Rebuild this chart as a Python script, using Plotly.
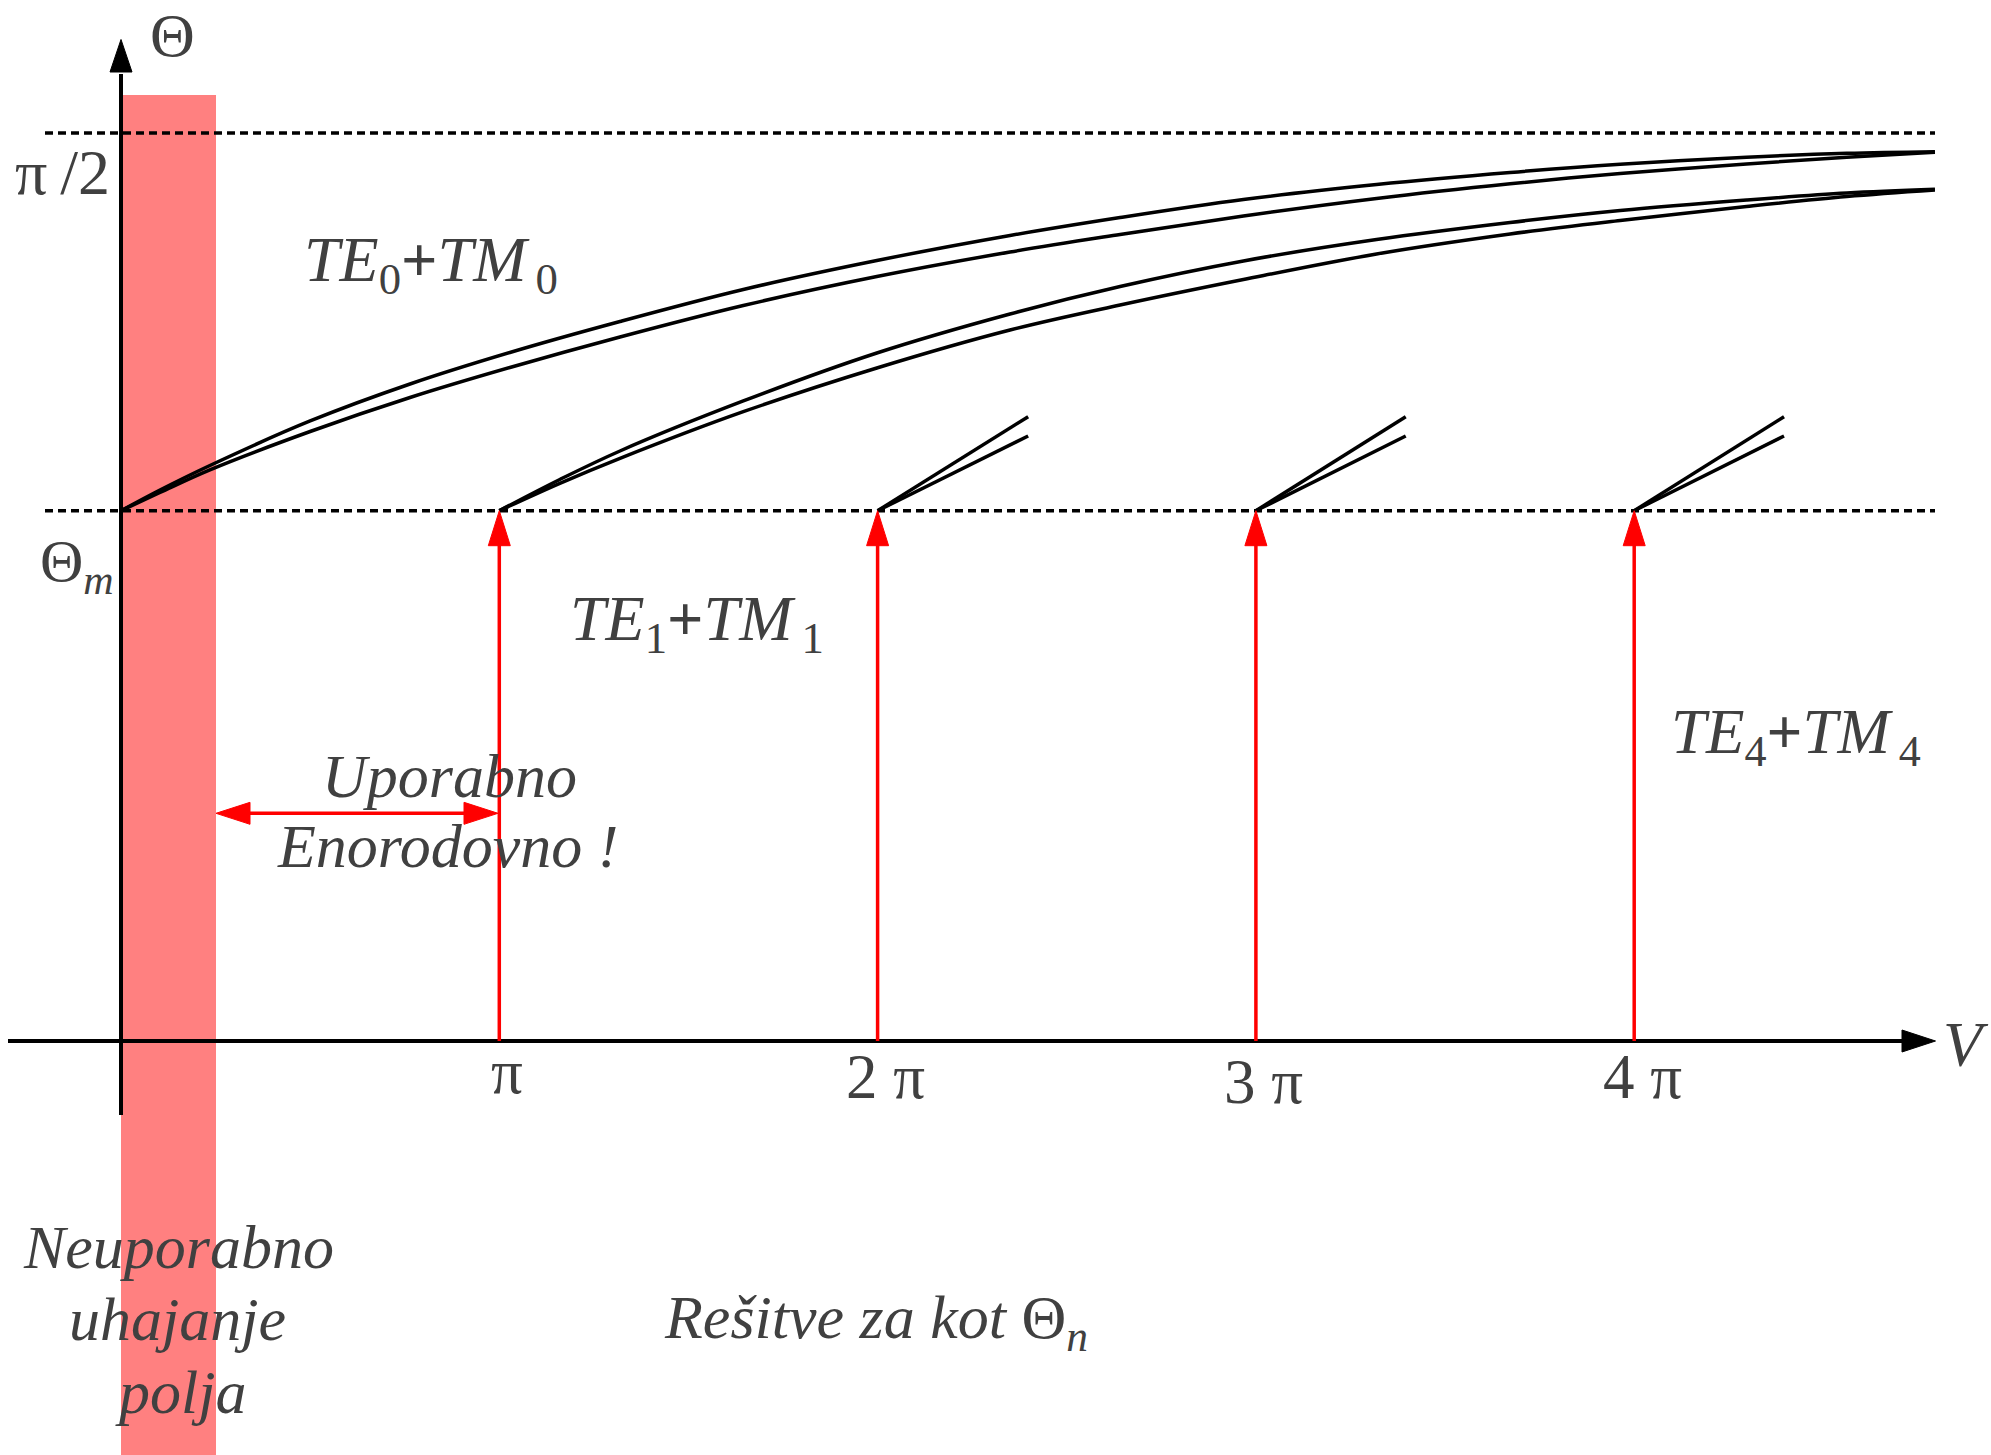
import plotly.graph_objects as go

# ---------------- data (V in units of pi, Theta in radians) ----------------
theta_m = 0.9174          # critical angle Theta_m
theta_half_pi = 1.5708    # pi/2
cutoffs = [1, 2, 3, 4]    # V = n*pi, mode cut-offs
tick_labels = ["π", "2 π", "3 π", "4 π"]

te0_v = [0.000, 0.103, 0.235, 0.500, 0.764, 1.028, 1.319, 1.645, 1.998,
         2.350, 2.641, 2.967, 3.319, 3.672, 3.963, 4.297, 4.562, 4.795]
te0_upper = [0.9174, 0.9532, 0.9956, 1.0726, 1.1366, 1.1911, 1.2447, 1.3001, 1.3502,
             1.3935, 1.4246, 1.4558, 1.4817, 1.5025, 1.5166, 1.5288, 1.5357, 1.5385]
te0_lower = [0.9174, 0.9489, 0.9881, 1.0544, 1.1132, 1.1651, 1.2179, 1.2724, 1.3225,
             1.3649, 1.3952, 1.4272, 1.4575, 1.4829, 1.5007, 1.5172, 1.5289, 1.5374]

te1_v = [1.000, 1.160, 1.319, 1.645, 1.998, 2.350, 2.641, 2.967, 3.319,
         3.672, 3.963, 4.297, 4.562, 4.795]
te1_upper = [0.9174, 0.9714, 1.0207, 1.1072, 1.1902, 1.2577, 1.3052, 1.3494, 1.3865,
             1.4160, 1.4367, 1.4549, 1.4670, 1.4734]
te1_lower = [0.9174, 0.9648, 1.0080, 1.0887, 1.1643, 1.2300, 1.2732, 1.3173, 1.3615,
             1.3961, 1.4194, 1.4436, 1.4609, 1.4722]

# higher modes: only the beginning of each pair is drawn
branch_start_v = [2, 3, 4]
branch_end_v = [2.398, 3.396, 4.396]
branch_upper_end = 1.0800
branch_lower_end = 1.0466

# ---------------- layout geometry ----------------
W, H = 1991, 1455
X0_PX, PX_PER_V = 121.0, 378.3
Y0_PX, PX_PER_RAD = 1041.0, 578.05


def vx(px):
    return (px - X0_PX) / PX_PER_V


def ty(py):
    return (Y0_PX - py) / PX_PER_RAD


def dx(px):
    return px / PX_PER_V


def dy(px):
    return px / PX_PER_RAD


FONT = "Liberation Serif"
TXT = "#404040"
BLACK = "#000000"
RED = "#FF0000"
BAND = "#FF8080"

fig = go.Figure()

curve_style = dict(color=BLACK, width=3.5)
for xs, ys in [(te0_v, te0_upper), (te0_v, te0_lower), (te1_v, te1_upper), (te1_v, te1_lower)]:
    fig.add_trace(go.Scatter(x=xs, y=ys, mode="lines",
                             line=dict(shape="spline", smoothing=1.0, **curve_style),
                             hoverinfo="skip", showlegend=False))
for xs, xe in zip(branch_start_v, branch_end_v):
    for ye in (branch_upper_end, branch_lower_end):
        fig.add_trace(go.Scatter(x=[xs, xe], y=[theta_m, ye], mode="lines", line=curve_style,
                                 hoverinfo="skip", showlegend=False))

shapes = []
# useless (leaky) region band
shapes.append(dict(type="rect", xref="x", yref="y", x0=0, x1=vx(216), y0=ty(H + 10), y1=ty(95),
                   fillcolor=BAND, line=dict(width=0), layer="below"))
# dashed reference lines
for yv in (theta_m, theta_half_pi):
    shapes.append(dict(type="line", xref="x", yref="y", x0=vx(45), x1=vx(1935), y0=yv, y1=yv,
                       line=dict(color=BLACK, width=3.5, dash="8px,5px")))


def tri(tip_x, tip_y, b1x, b1y, b2x, b2y, color):
    return dict(type="path", xref="x", yref="y",
                path=f"M {tip_x},{tip_y} L {b1x},{b1y} L {b2x},{b2y} Z",
                fillcolor=color, line=dict(color=color, width=1))


# x axis
shapes.append(dict(type="line", xref="x", yref="y", x0=vx(8), x1=vx(1904), y0=0, y1=0,
                   line=dict(color=BLACK, width=4)))
shapes.append(tri(vx(1935.5), 0, vx(1902), dy(11), vx(1902), -dy(11), BLACK))
# y axis
shapes.append(dict(type="line", xref="x", yref="y", x0=0, x1=0, y0=ty(1115), y1=ty(74),
                   line=dict(color=BLACK, width=4)))
shapes.append(tri(0, ty(39.5), -dx(11), ty(72), dx(11), ty(72), BLACK))

# red cut-off arrows
for n in cutoffs:
    shapes.append(dict(type="line", xref="x", yref="y", x0=n, x1=n, y0=0, y1=theta_m - dy(33),
                       line=dict(color=RED, width=3.5)))
    shapes.append(tri(n, theta_m, n - dx(11), theta_m - dy(35), n + dx(11), theta_m - dy(35), RED))

# single-mode double arrow
ya = ty(813.3)
xl, xr = vx(216), vx(498)
shapes.append(dict(type="line", xref="x", yref="y", x0=xl + dx(30), x1=xr - dx(30), y0=ya, y1=ya,
                   line=dict(color=RED, width=3.5)))
shapes.append(tri(xl, ya, xl + dx(34), ya + dy(11), xl + dx(34), ya - dy(11), RED))
shapes.append(tri(xr, ya, xr - dx(34), ya + dy(11), xr - dx(34), ya - dy(11), RED))

annotations = []


def label(text, px, py, size, xanchor="center"):
    annotations.append(dict(x=vx(px), y=ty(py), xref="x", yref="y", text=text, showarrow=False,
                            xanchor=xanchor, yanchor="middle",
                            font=dict(family=FONT, size=size, color=TXT)))


PLUS = "<b>+</b>"
SP = "\u2009"
label("Θ", 172, 34.5, 62)
label("π" + SP + "/2", 62, 172, 64)
label("Θ<sub><i>m</i></sub>", 38, 565, 60, xanchor="left")
label("<i>TE</i><sub>0</sub>" + PLUS + "<i>TM</i><sub>" + SP + "0</sub>", 302, 264, 64, xanchor="left")
label("<i>TE</i><sub>1</sub>" + PLUS + "<i>TM</i><sub>" + SP + "1</sub>", 568, 623, 64, xanchor="left")
label("<i>TE</i><sub>4</sub>" + PLUS + "<i>TM</i><sub>" + SP + "4</sub>", 1669, 736, 63, xanchor="left")

tick_dy_px = [-5, 0, 5, 0]
for n, lab, off in zip(cutoffs, tick_labels, tick_dy_px):
    annotations.append(dict(x=n + dx(8), y=ty(1077 + off), xref="x", yref="y", text=lab,
                            showarrow=False, xanchor="center", yanchor="middle",
                            font=dict(family=FONT, size=63, color=TXT)))

label("<i>V</i>", 1966, 1044, 64)
label("<i>Uporabno</i>", 449.5, 776, 62)
label("<i>Enorodovno !</i>", 447, 846, 62)
label("<i>Neuporabno</i>", 178.5, 1247, 62)
label("<i>uhajanje</i>", 177.5, 1319, 62)
label("<i>polja</i>", 180, 1392, 62)
label("<i>Rešitve za kot </i>Θ<sub><i>n</i></sub>", 662, 1321, 62, xanchor="left")

fig.update_layout(
    width=W, height=H,
    margin=dict(l=0, r=0, t=0, b=0),
    paper_bgcolor="white", plot_bgcolor="white",
    xaxis=dict(range=[vx(0), vx(W)], visible=False, fixedrange=True),
    yaxis=dict(range=[ty(H), ty(0)], visible=False, fixedrange=True),
    shapes=shapes, annotations=annotations, showlegend=False,
)

fig.write_html("out.html", config={"displayModeBar": False},
               post_script="document.body.style.margin='0';document.body.style.overflow='hidden';")
